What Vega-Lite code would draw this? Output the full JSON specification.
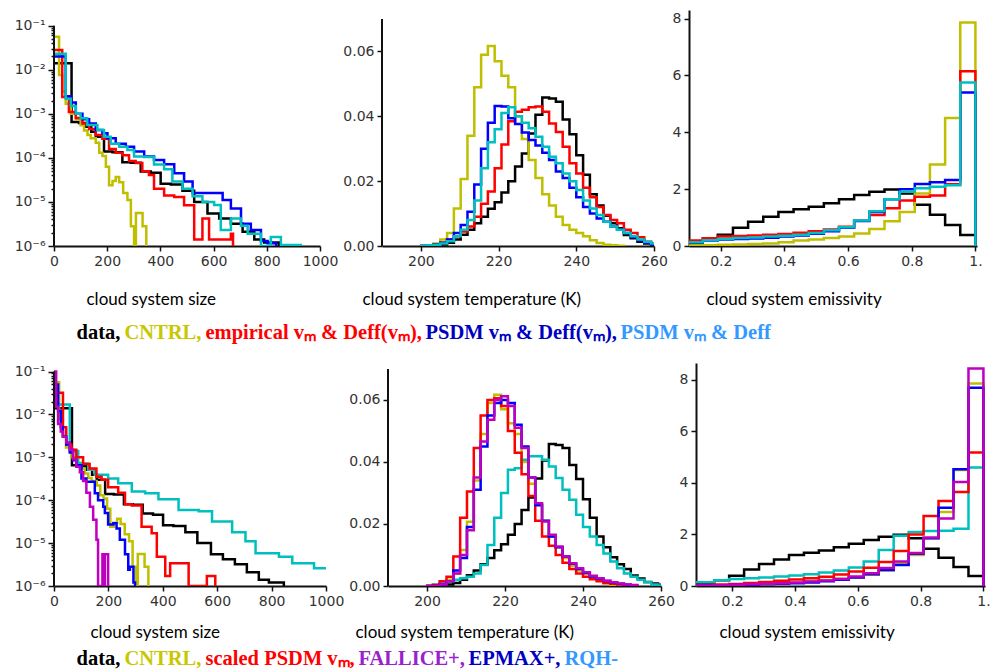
{
"$schema": "https://vega.github.io/schema/vega-lite/v6.json",
"padding": {"left": 14, "top": 10, "right": 2, "bottom": 0},
"background": "white",
"config": {
 "view": {"stroke": null},
 "axis": {"domainColor": "#111111", "domainWidth": 2, "tickColor": "#111111", "tickWidth": 1.5, "tickSize": 5, "labelFont": "DejaVu Sans", "labelFontSize": 14, "labelColor": "#333333", "labelPadding": 3, "grid": false, "titleFont": "Lato", "titleFontSize": 17, "titleFontWeight": "normal", "titleColor": "#000000", "labelFlush": false, "labelOverlap": false, "titleAnchor": "start", "titleAlign": "left"}
},
"datasets": {"h": [
{"v":"s","r":"data","x":0,"y":1.4e-2},{"v":"s","r":"data","x":66,"y":6.5e-4},{"v":"s","r":"data","x":94,"y":6.2e-4},{"v":"s","r":"data","x":119,"y":5.1e-4},{"v":"s","r":"data","x":140,"y":3.9e-4},{"v":"s","r":"data","x":157,"y":3.0e-4},{"v":"s","r":"data","x":188,"y":1.4e-4},{"v":"s","r":"data","x":220,"y":1.35e-4},{"v":"s","r":"data","x":257,"y":8.0e-5},{"v":"s","r":"data","x":289,"y":7.8e-5},{"v":"s","r":"data","x":326,"y":4.9e-5},{"v":"s","r":"data","x":364,"y":4.6e-5},{"v":"s","r":"data","x":401,"y":2.6e-5},{"v":"s","r":"data","x":439,"y":2.5e-5},{"v":"s","r":"data","x":483,"y":1.8e-5},{"v":"s","r":"data","x":527,"y":1.0e-5},{"v":"s","r":"data","x":577,"y":5.5e-6},{"v":"s","r":"data","x":621,"y":4.2e-6},{"v":"s","r":"data","x":665,"y":3.2e-6},{"v":"s","r":"data","x":709,"y":2.1e-6},{"v":"s","r":"data","x":753,"y":1.4e-6},{"v":"s","r":"data","x":790,"y":1.2e-6},{"v":"s","r":"data","x":845,"y":1e-6},
{"v":"t","r":"data","x":199.75,"y":0},{"v":"t","r":"data","x":201.5,"y":0.0001},{"v":"t","r":"data","x":203.25,"y":0.0002},{"v":"t","r":"data","x":205,"y":0.0005},{"v":"t","r":"data","x":206.75,"y":0.001},{"v":"t","r":"data","x":208.5,"y":0.002},{"v":"t","r":"data","x":210.25,"y":0.0035},{"v":"t","r":"data","x":212,"y":0.005},{"v":"t","r":"data","x":213.75,"y":0.007},{"v":"t","r":"data","x":215.5,"y":0.009},{"v":"t","r":"data","x":217.25,"y":0.0115},{"v":"t","r":"data","x":219,"y":0.0135},{"v":"t","r":"data","x":220.75,"y":0.0165},{"v":"t","r":"data","x":222.5,"y":0.02},{"v":"t","r":"data","x":224.25,"y":0.0245},{"v":"t","r":"data","x":226,"y":0.0285},{"v":"t","r":"data","x":227.75,"y":0.0347},{"v":"t","r":"data","x":229.5,"y":0.0405},{"v":"t","r":"data","x":231.25,"y":0.0458},{"v":"t","r":"data","x":233,"y":0.0455},{"v":"t","r":"data","x":234.75,"y":0.0445},{"v":"t","r":"data","x":236.5,"y":0.039},{"v":"t","r":"data","x":238.25,"y":0.0345},{"v":"t","r":"data","x":240,"y":0.028},{"v":"t","r":"data","x":241.75,"y":0.022},{"v":"t","r":"data","x":243.5,"y":0.016},{"v":"t","r":"data","x":245.25,"y":0.0125},{"v":"t","r":"data","x":247,"y":0.0093},{"v":"t","r":"data","x":248.75,"y":0.007},{"v":"t","r":"data","x":250.5,"y":0.0055},{"v":"t","r":"data","x":252.25,"y":0.0034},{"v":"t","r":"data","x":254,"y":0.0024},{"v":"t","r":"data","x":255.75,"y":0.0013},{"v":"t","r":"data","x":257.5,"y":0.0008},{"v":"t","r":"data","x":259.25,"y":0.0004},{"v":"t","r":"data","x":261,"y":0},
{"v":"e","r":"data","x":0.0476,"y":0.1},{"v":"e","r":"data","x":0.1429,"y":0.22},{"v":"e","r":"data","x":0.1905,"y":0.4},{"v":"e","r":"data","x":0.2381,"y":0.64},{"v":"e","r":"data","x":0.2857,"y":0.85},{"v":"e","r":"data","x":0.3333,"y":1.03},{"v":"e","r":"data","x":0.381,"y":1.2},{"v":"e","r":"data","x":0.4286,"y":1.29},{"v":"e","r":"data","x":0.4762,"y":1.38},{"v":"e","r":"data","x":0.5238,"y":1.5},{"v":"e","r":"data","x":0.5714,"y":1.64},{"v":"e","r":"data","x":0.619,"y":1.79},{"v":"e","r":"data","x":0.6667,"y":1.91},{"v":"e","r":"data","x":0.7143,"y":1.99},{"v":"e","r":"data","x":0.7619,"y":1.85},{"v":"e","r":"data","x":0.8095,"y":1.45},{"v":"e","r":"data","x":0.8571,"y":1.1},{"v":"e","r":"data","x":0.9048,"y":0.74},{"v":"e","r":"data","x":0.9524,"y":0.39},{"v":"e","r":"data","x":1.0,"y":0},
{"v":"s","r":"CNTRL","x":0,"y":5.6e-2},{"v":"s","r":"CNTRL","x":19,"y":7.6e-3},{"v":"s","r":"CNTRL","x":31,"y":3.2e-3},{"v":"s","r":"CNTRL","x":44,"y":1.7e-3},{"v":"s","r":"CNTRL","x":63,"y":1.0e-3},{"v":"s","r":"CNTRL","x":82,"y":7.5e-4},{"v":"s","r":"CNTRL","x":100,"y":5.5e-4},{"v":"s","r":"CNTRL","x":113,"y":4.2e-4},{"v":"s","r":"CNTRL","x":126,"y":3.3e-4},{"v":"s","r":"CNTRL","x":138,"y":2.8e-4},{"v":"s","r":"CNTRL","x":157,"y":2.2e-4},{"v":"s","r":"CNTRL","x":170,"y":1.3e-4},{"v":"s","r":"CNTRL","x":182,"y":1.1e-4},{"v":"s","r":"CNTRL","x":195,"y":6.3e-5},{"v":"s","r":"CNTRL","x":207,"y":2.4e-5},{"v":"s","r":"CNTRL","x":220,"y":3.0e-5},{"v":"s","r":"CNTRL","x":232,"y":3.7e-5},{"v":"s","r":"CNTRL","x":245,"y":2.8e-5},{"v":"s","r":"CNTRL","x":260,"y":1.6e-5},{"v":"s","r":"CNTRL","x":276,"y":1.1e-5},{"v":"s","r":"CNTRL","x":289,"y":2.8e-6},{"v":"s","r":"CNTRL","x":301,"y":1e-6},{"v":"s","r":"CNTRL","x":308,"y":5.6e-6},{"v":"s","r":"CNTRL","x":333,"y":2.8e-6},{"v":"s","r":"CNTRL","x":347,"y":1e-6},
{"v":"t","r":"CNTRL","x":199.75,"y":0},{"v":"t","r":"CNTRL","x":201.5,"y":0.0002},{"v":"t","r":"CNTRL","x":203.25,"y":0.0008},{"v":"t","r":"CNTRL","x":205,"y":0.002},{"v":"t","r":"CNTRL","x":206.75,"y":0.004},{"v":"t","r":"CNTRL","x":208.5,"y":0.0116},{"v":"t","r":"CNTRL","x":210.25,"y":0.0207},{"v":"t","r":"CNTRL","x":212,"y":0.034},{"v":"t","r":"CNTRL","x":213.75,"y":0.049},{"v":"t","r":"CNTRL","x":215.5,"y":0.059},{"v":"t","r":"CNTRL","x":217.25,"y":0.0617},{"v":"t","r":"CNTRL","x":219,"y":0.057},{"v":"t","r":"CNTRL","x":220.75,"y":0.0525},{"v":"t","r":"CNTRL","x":222.5,"y":0.049},{"v":"t","r":"CNTRL","x":224.25,"y":0.04},{"v":"t","r":"CNTRL","x":226,"y":0.033},{"v":"t","r":"CNTRL","x":227.75,"y":0.0265},{"v":"t","r":"CNTRL","x":229.5,"y":0.021},{"v":"t","r":"CNTRL","x":231.25,"y":0.016},{"v":"t","r":"CNTRL","x":233,"y":0.0125},{"v":"t","r":"CNTRL","x":234.75,"y":0.009},{"v":"t","r":"CNTRL","x":236.5,"y":0.0065},{"v":"t","r":"CNTRL","x":238.25,"y":0.005},{"v":"t","r":"CNTRL","x":240,"y":0.004},{"v":"t","r":"CNTRL","x":241.75,"y":0.003},{"v":"t","r":"CNTRL","x":243.5,"y":0.0018},{"v":"t","r":"CNTRL","x":245.25,"y":0.0009},{"v":"t","r":"CNTRL","x":247,"y":0.0004},{"v":"t","r":"CNTRL","x":248.75,"y":0.0002},{"v":"t","r":"CNTRL","x":250.5,"y":0.0001},{"v":"t","r":"CNTRL","x":252.25,"y":0},
{"v":"e","r":"CNTRL","x":0.0476,"y":0.02},{"v":"e","r":"CNTRL","x":0.1429,"y":0.03},{"v":"e","r":"CNTRL","x":0.1905,"y":0.04},{"v":"e","r":"CNTRL","x":0.2381,"y":0.05},{"v":"e","r":"CNTRL","x":0.2857,"y":0.07},{"v":"e","r":"CNTRL","x":0.3333,"y":0.09},{"v":"e","r":"CNTRL","x":0.381,"y":0.13},{"v":"e","r":"CNTRL","x":0.4286,"y":0.19},{"v":"e","r":"CNTRL","x":0.4762,"y":0.23},{"v":"e","r":"CNTRL","x":0.5238,"y":0.28},{"v":"e","r":"CNTRL","x":0.5714,"y":0.33},{"v":"e","r":"CNTRL","x":0.619,"y":0.44},{"v":"e","r":"CNTRL","x":0.6667,"y":0.6},{"v":"e","r":"CNTRL","x":0.7143,"y":0.87},{"v":"e","r":"CNTRL","x":0.7619,"y":1.2},{"v":"e","r":"CNTRL","x":0.8095,"y":1.85},{"v":"e","r":"CNTRL","x":0.8571,"y":2.87},{"v":"e","r":"CNTRL","x":0.9048,"y":4.5},{"v":"e","r":"CNTRL","x":0.9524,"y":7.86},{"v":"e","r":"CNTRL","x":1.0,"y":0},
{"v":"s","r":"emp","x":0,"y":2.8e-2},{"v":"s","r":"emp","x":31,"y":2.4e-3},{"v":"s","r":"emp","x":56,"y":1.1e-3},{"v":"s","r":"emp","x":82,"y":8.0e-4},{"v":"s","r":"emp","x":107,"y":6.0e-4},{"v":"s","r":"emp","x":132,"y":4.5e-4},{"v":"s","r":"emp","x":157,"y":3.3e-4},{"v":"s","r":"emp","x":182,"y":2.7e-4},{"v":"s","r":"emp","x":207,"y":1.6e-4},{"v":"s","r":"emp","x":232,"y":1.3e-4},{"v":"s","r":"emp","x":257,"y":1.15e-4},{"v":"s","r":"emp","x":282,"y":8.5e-5},{"v":"s","r":"emp","x":307,"y":7.7e-5},{"v":"s","r":"emp","x":332,"y":5.0e-5},{"v":"s","r":"emp","x":357,"y":4.1e-5},{"v":"s","r":"emp","x":376,"y":2.0e-5},{"v":"s","r":"emp","x":414,"y":1.4e-5},{"v":"s","r":"emp","x":452,"y":1.3e-5},{"v":"s","r":"emp","x":489,"y":8.4e-6},{"v":"s","r":"emp","x":527,"y":1.4e-6},{"v":"s","r":"emp","x":558,"y":4.2e-6},{"v":"s","r":"emp","x":583,"y":1.4e-6},{"v":"s","r":"emp","x":665,"y":1.9e-6},{"v":"s","r":"emp","x":673,"y":1e-6},
{"v":"t","r":"emp","x":199.75,"y":0},{"v":"t","r":"emp","x":201.5,"y":0.0002},{"v":"t","r":"emp","x":203.25,"y":0.0005},{"v":"t","r":"emp","x":205,"y":0.001},{"v":"t","r":"emp","x":206.75,"y":0.002},{"v":"t","r":"emp","x":208.5,"y":0.003},{"v":"t","r":"emp","x":210.25,"y":0.0045},{"v":"t","r":"emp","x":212,"y":0.006},{"v":"t","r":"emp","x":213.75,"y":0.009},{"v":"t","r":"emp","x":215.5,"y":0.013},{"v":"t","r":"emp","x":217.25,"y":0.0168},{"v":"t","r":"emp","x":219,"y":0.024},{"v":"t","r":"emp","x":220.75,"y":0.0313},{"v":"t","r":"emp","x":222.5,"y":0.0385},{"v":"t","r":"emp","x":224.25,"y":0.0414},{"v":"t","r":"emp","x":226,"y":0.042},{"v":"t","r":"emp","x":227.75,"y":0.0428},{"v":"t","r":"emp","x":229.5,"y":0.043},{"v":"t","r":"emp","x":231.25,"y":0.0414},{"v":"t","r":"emp","x":233,"y":0.0378},{"v":"t","r":"emp","x":234.75,"y":0.0352},{"v":"t","r":"emp","x":236.5,"y":0.0306},{"v":"t","r":"emp","x":238.25,"y":0.0255},{"v":"t","r":"emp","x":240,"y":0.0224},{"v":"t","r":"emp","x":241.75,"y":0.018},{"v":"t","r":"emp","x":243.5,"y":0.015},{"v":"t","r":"emp","x":245.25,"y":0.012},{"v":"t","r":"emp","x":247,"y":0.0096},{"v":"t","r":"emp","x":248.75,"y":0.008},{"v":"t","r":"emp","x":250.5,"y":0.007},{"v":"t","r":"emp","x":252.25,"y":0.005},{"v":"t","r":"emp","x":254,"y":0.004},{"v":"t","r":"emp","x":255.75,"y":0.0027},{"v":"t","r":"emp","x":257.5,"y":0.0013},{"v":"t","r":"emp","x":259.25,"y":0.0006},{"v":"t","r":"emp","x":261,"y":0},
{"v":"e","r":"emp","x":0.0476,"y":0.19},{"v":"e","r":"emp","x":0.1429,"y":0.27},{"v":"e","r":"emp","x":0.1905,"y":0.33},{"v":"e","r":"emp","x":0.2381,"y":0.35},{"v":"e","r":"emp","x":0.2857,"y":0.37},{"v":"e","r":"emp","x":0.3333,"y":0.4},{"v":"e","r":"emp","x":0.381,"y":0.42},{"v":"e","r":"emp","x":0.4286,"y":0.47},{"v":"e","r":"emp","x":0.4762,"y":0.52},{"v":"e","r":"emp","x":0.5238,"y":0.58},{"v":"e","r":"emp","x":0.5714,"y":0.68},{"v":"e","r":"emp","x":0.619,"y":0.89},{"v":"e","r":"emp","x":0.6667,"y":1.09},{"v":"e","r":"emp","x":0.7143,"y":1.33},{"v":"e","r":"emp","x":0.7619,"y":1.6},{"v":"e","r":"emp","x":0.8095,"y":1.73},{"v":"e","r":"emp","x":0.8571,"y":1.78},{"v":"e","r":"emp","x":0.9048,"y":2.17},{"v":"e","r":"emp","x":0.9524,"y":6.15},{"v":"e","r":"emp","x":1.0,"y":0},
{"v":"s","r":"psdm1","x":0,"y":2.0e-2},{"v":"s","r":"psdm1","x":44,"y":2.5e-3},{"v":"s","r":"psdm1","x":63,"y":1.8e-3},{"v":"s","r":"psdm1","x":82,"y":1.0e-3},{"v":"s","r":"psdm1","x":107,"y":7.5e-4},{"v":"s","r":"psdm1","x":132,"y":6.0e-4},{"v":"s","r":"psdm1","x":157,"y":4.3e-4},{"v":"s","r":"psdm1","x":182,"y":3.6e-4},{"v":"s","r":"psdm1","x":201,"y":2.8e-4},{"v":"s","r":"psdm1","x":232,"y":2.1e-4},{"v":"s","r":"psdm1","x":270,"y":1.8e-4},{"v":"s","r":"psdm1","x":301,"y":1.4e-4},{"v":"s","r":"psdm1","x":339,"y":1.07e-4},{"v":"s","r":"psdm1","x":376,"y":8.9e-5},{"v":"s","r":"psdm1","x":414,"y":7.2e-5},{"v":"s","r":"psdm1","x":452,"y":4.5e-5},{"v":"s","r":"psdm1","x":489,"y":2.9e-5},{"v":"s","r":"psdm1","x":521,"y":1.6e-5},{"v":"s","r":"psdm1","x":634,"y":1.1e-5},{"v":"s","r":"psdm1","x":665,"y":7.1e-6},{"v":"s","r":"psdm1","x":703,"y":3.2e-6},{"v":"s","r":"psdm1","x":740,"y":2.3e-6},{"v":"s","r":"psdm1","x":778,"y":1.3e-6},{"v":"s","r":"psdm1","x":803,"y":1.15e-6},{"v":"s","r":"psdm1","x":835,"y":1e-6},
{"v":"t","r":"psdm1","x":199.75,"y":0},{"v":"t","r":"psdm1","x":201.5,"y":0.0002},{"v":"t","r":"psdm1","x":203.25,"y":0.0005},{"v":"t","r":"psdm1","x":205,"y":0.001},{"v":"t","r":"psdm1","x":206.75,"y":0.002},{"v":"t","r":"psdm1","x":208.5,"y":0.004},{"v":"t","r":"psdm1","x":210.25,"y":0.0065},{"v":"t","r":"psdm1","x":212,"y":0.0106},{"v":"t","r":"psdm1","x":213.75,"y":0.019},{"v":"t","r":"psdm1","x":215.5,"y":0.03},{"v":"t","r":"psdm1","x":217.25,"y":0.038},{"v":"t","r":"psdm1","x":219,"y":0.0432},{"v":"t","r":"psdm1","x":220.75,"y":0.043},{"v":"t","r":"psdm1","x":222.5,"y":0.0394},{"v":"t","r":"psdm1","x":224.25,"y":0.0376},{"v":"t","r":"psdm1","x":226,"y":0.035},{"v":"t","r":"psdm1","x":227.75,"y":0.0327},{"v":"t","r":"psdm1","x":229.5,"y":0.031},{"v":"t","r":"psdm1","x":231.25,"y":0.0288},{"v":"t","r":"psdm1","x":233,"y":0.0265},{"v":"t","r":"psdm1","x":234.75,"y":0.023},{"v":"t","r":"psdm1","x":236.5,"y":0.021},{"v":"t","r":"psdm1","x":238.25,"y":0.018},{"v":"t","r":"psdm1","x":240,"y":0.015},{"v":"t","r":"psdm1","x":241.75,"y":0.012},{"v":"t","r":"psdm1","x":243.5,"y":0.01},{"v":"t","r":"psdm1","x":245.25,"y":0.0085},{"v":"t","r":"psdm1","x":247,"y":0.0075},{"v":"t","r":"psdm1","x":248.75,"y":0.006},{"v":"t","r":"psdm1","x":250.5,"y":0.005},{"v":"t","r":"psdm1","x":252.25,"y":0.004},{"v":"t","r":"psdm1","x":254,"y":0.0027},{"v":"t","r":"psdm1","x":255.75,"y":0.0018},{"v":"t","r":"psdm1","x":257.5,"y":0.001},{"v":"t","r":"psdm1","x":259.25,"y":0.0005},{"v":"t","r":"psdm1","x":261,"y":0},
{"v":"e","r":"psdm1","x":0.0476,"y":0.12},{"v":"e","r":"psdm1","x":0.1429,"y":0.19},{"v":"e","r":"psdm1","x":0.1905,"y":0.23},{"v":"e","r":"psdm1","x":0.2381,"y":0.25},{"v":"e","r":"psdm1","x":0.2857,"y":0.26},{"v":"e","r":"psdm1","x":0.3333,"y":0.29},{"v":"e","r":"psdm1","x":0.381,"y":0.33},{"v":"e","r":"psdm1","x":0.4286,"y":0.37},{"v":"e","r":"psdm1","x":0.4762,"y":0.43},{"v":"e","r":"psdm1","x":0.5238,"y":0.52},{"v":"e","r":"psdm1","x":0.5714,"y":0.64},{"v":"e","r":"psdm1","x":0.619,"y":0.88},{"v":"e","r":"psdm1","x":0.6667,"y":1.2},{"v":"e","r":"psdm1","x":0.7143,"y":1.64},{"v":"e","r":"psdm1","x":0.7619,"y":2.0},{"v":"e","r":"psdm1","x":0.8095,"y":2.18},{"v":"e","r":"psdm1","x":0.8571,"y":2.24},{"v":"e","r":"psdm1","x":0.9048,"y":2.32},{"v":"e","r":"psdm1","x":0.9524,"y":5.4},{"v":"e","r":"psdm1","x":1.0,"y":0},
{"v":"s","r":"psdm2","x":0,"y":2.3e-2},{"v":"s","r":"psdm2","x":44,"y":2.2e-3},{"v":"s","r":"psdm2","x":63,"y":1.5e-3},{"v":"s","r":"psdm2","x":82,"y":1.0e-3},{"v":"s","r":"psdm2","x":100,"y":7.9e-4},{"v":"s","r":"psdm2","x":125,"y":5.6e-4},{"v":"s","r":"psdm2","x":163,"y":4.3e-4},{"v":"s","r":"psdm2","x":188,"y":3.0e-4},{"v":"s","r":"psdm2","x":213,"y":2.1e-4},{"v":"s","r":"psdm2","x":245,"y":1.8e-4},{"v":"s","r":"psdm2","x":276,"y":1.5e-4},{"v":"s","r":"psdm2","x":301,"y":1.07e-4},{"v":"s","r":"psdm2","x":339,"y":1.05e-4},{"v":"s","r":"psdm2","x":376,"y":7.1e-5},{"v":"s","r":"psdm2","x":414,"y":5.5e-5},{"v":"s","r":"psdm2","x":445,"y":2.9e-5},{"v":"s","r":"psdm2","x":483,"y":2.0e-5},{"v":"s","r":"psdm2","x":521,"y":1.35e-5},{"v":"s","r":"psdm2","x":558,"y":1.0e-5},{"v":"s","r":"psdm2","x":602,"y":8.5e-6},{"v":"s","r":"psdm2","x":627,"y":2.3e-6},{"v":"s","r":"psdm2","x":665,"y":4.2e-6},{"v":"s","r":"psdm2","x":703,"y":2.9e-6},{"v":"s","r":"psdm2","x":728,"y":1.9e-6},{"v":"s","r":"psdm2","x":778,"y":1.0e-6},{"v":"s","r":"psdm2","x":815,"y":1.6e-6},{"v":"s","r":"psdm2","x":853,"y":1.05e-6},{"v":"s","r":"psdm2","x":928,"y":1e-6},
{"v":"t","r":"psdm2","x":199.75,"y":0},{"v":"t","r":"psdm2","x":201.5,"y":0.0002},{"v":"t","r":"psdm2","x":203.25,"y":0.0004},{"v":"t","r":"psdm2","x":205,"y":0.0008},{"v":"t","r":"psdm2","x":206.75,"y":0.0015},{"v":"t","r":"psdm2","x":208.5,"y":0.003},{"v":"t","r":"psdm2","x":210.25,"y":0.005},{"v":"t","r":"psdm2","x":212,"y":0.008},{"v":"t","r":"psdm2","x":213.75,"y":0.014},{"v":"t","r":"psdm2","x":215.5,"y":0.024},{"v":"t","r":"psdm2","x":217.25,"y":0.032},{"v":"t","r":"psdm2","x":219,"y":0.036},{"v":"t","r":"psdm2","x":220.75,"y":0.041},{"v":"t","r":"psdm2","x":222.5,"y":0.0428},{"v":"t","r":"psdm2","x":224.25,"y":0.04},{"v":"t","r":"psdm2","x":226,"y":0.038},{"v":"t","r":"psdm2","x":227.75,"y":0.0363},{"v":"t","r":"psdm2","x":229.5,"y":0.0337},{"v":"t","r":"psdm2","x":231.25,"y":0.0306},{"v":"t","r":"psdm2","x":233,"y":0.0275},{"v":"t","r":"psdm2","x":234.75,"y":0.0255},{"v":"t","r":"psdm2","x":236.5,"y":0.0224},{"v":"t","r":"psdm2","x":238.25,"y":0.02},{"v":"t","r":"psdm2","x":240,"y":0.0173},{"v":"t","r":"psdm2","x":241.75,"y":0.014},{"v":"t","r":"psdm2","x":243.5,"y":0.0116},{"v":"t","r":"psdm2","x":245.25,"y":0.0096},{"v":"t","r":"psdm2","x":247,"y":0.0075},{"v":"t","r":"psdm2","x":248.75,"y":0.006},{"v":"t","r":"psdm2","x":250.5,"y":0.005},{"v":"t","r":"psdm2","x":252.25,"y":0.004},{"v":"t","r":"psdm2","x":254,"y":0.003},{"v":"t","r":"psdm2","x":255.75,"y":0.002},{"v":"t","r":"psdm2","x":257.5,"y":0.0013},{"v":"t","r":"psdm2","x":259.25,"y":0.0008},{"v":"t","r":"psdm2","x":261,"y":0},
{"v":"e","r":"psdm2","x":0.0476,"y":0.13},{"v":"e","r":"psdm2","x":0.1429,"y":0.2},{"v":"e","r":"psdm2","x":0.1905,"y":0.25},{"v":"e","r":"psdm2","x":0.2381,"y":0.28},{"v":"e","r":"psdm2","x":0.2857,"y":0.3},{"v":"e","r":"psdm2","x":0.3333,"y":0.33},{"v":"e","r":"psdm2","x":0.381,"y":0.36},{"v":"e","r":"psdm2","x":0.4286,"y":0.4},{"v":"e","r":"psdm2","x":0.4762,"y":0.46},{"v":"e","r":"psdm2","x":0.5238,"y":0.55},{"v":"e","r":"psdm2","x":0.5714,"y":0.66},{"v":"e","r":"psdm2","x":0.619,"y":0.9},{"v":"e","r":"psdm2","x":0.6667,"y":1.22},{"v":"e","r":"psdm2","x":0.7143,"y":1.64},{"v":"e","r":"psdm2","x":0.7619,"y":1.91},{"v":"e","r":"psdm2","x":0.8095,"y":2.03},{"v":"e","r":"psdm2","x":0.8571,"y":2.08},{"v":"e","r":"psdm2","x":0.9048,"y":2.14},{"v":"e","r":"psdm2","x":0.9524,"y":5.75},{"v":"e","r":"psdm2","x":1.0,"y":0},
{"v":"s","r":"rqh","x":0,"y":1.7e-2},{"v":"s","r":"rqh","x":58,"y":1.4e-3},{"v":"s","r":"rqh","x":89,"y":7.2e-4},{"v":"s","r":"rqh","x":126,"y":5.1e-4},{"v":"s","r":"rqh","x":150,"y":3.9e-4},{"v":"s","r":"rqh","x":199,"y":3.2e-4},{"v":"s","r":"rqh","x":236,"y":2.5e-4},{"v":"s","r":"rqh","x":286,"y":1.6e-4},{"v":"s","r":"rqh","x":335,"y":1.45e-4},{"v":"s","r":"rqh","x":384,"y":1.05e-4},{"v":"s","r":"rqh","x":458,"y":5.9e-5},{"v":"s","r":"rqh","x":532,"y":5.5e-5},{"v":"s","r":"rqh","x":581,"y":3.2e-5},{"v":"s","r":"rqh","x":655,"y":1.8e-5},{"v":"s","r":"rqh","x":704,"y":1.1e-5},{"v":"s","r":"rqh","x":741,"y":5.8e-6},{"v":"s","r":"rqh","x":827,"y":4.8e-6},{"v":"s","r":"rqh","x":876,"y":3.4e-6},{"v":"s","r":"rqh","x":956,"y":2.6e-6},{"v":"s","r":"rqh","x":1010,"y":2.6e-6},
{"v":"t","r":"rqh","x":199.75,"y":0},{"v":"t","r":"rqh","x":201.5,"y":0.0005},{"v":"t","r":"rqh","x":203.25,"y":0.001},{"v":"t","r":"rqh","x":205,"y":0.0015},{"v":"t","r":"rqh","x":206.75,"y":0.002},{"v":"t","r":"rqh","x":208.5,"y":0.0025},{"v":"t","r":"rqh","x":210.25,"y":0.003},{"v":"t","r":"rqh","x":212,"y":0.004},{"v":"t","r":"rqh","x":213.75,"y":0.0068},{"v":"t","r":"rqh","x":215.5,"y":0.0132},{"v":"t","r":"rqh","x":217.25,"y":0.022},{"v":"t","r":"rqh","x":219,"y":0.03},{"v":"t","r":"rqh","x":220.75,"y":0.0375},{"v":"t","r":"rqh","x":222.5,"y":0.038},{"v":"t","r":"rqh","x":224.25,"y":0.0407},{"v":"t","r":"rqh","x":226,"y":0.0418},{"v":"t","r":"rqh","x":227.75,"y":0.0418},{"v":"t","r":"rqh","x":229.5,"y":0.0407},{"v":"t","r":"rqh","x":231.25,"y":0.0385},{"v":"t","r":"rqh","x":233,"y":0.0348},{"v":"t","r":"rqh","x":234.75,"y":0.031},{"v":"t","r":"rqh","x":236.5,"y":0.0278},{"v":"t","r":"rqh","x":238.25,"y":0.023},{"v":"t","r":"rqh","x":240,"y":0.019},{"v":"t","r":"rqh","x":241.75,"y":0.016},{"v":"t","r":"rqh","x":243.5,"y":0.0132},{"v":"t","r":"rqh","x":245.25,"y":0.0105},{"v":"t","r":"rqh","x":247,"y":0.0079},{"v":"t","r":"rqh","x":248.75,"y":0.0057},{"v":"t","r":"rqh","x":250.5,"y":0.004},{"v":"t","r":"rqh","x":252.25,"y":0.003},{"v":"t","r":"rqh","x":254,"y":0.002},{"v":"t","r":"rqh","x":255.75,"y":0.0012},{"v":"t","r":"rqh","x":257.5,"y":0.0005},{"v":"t","r":"rqh","x":259.25,"y":0.0002},{"v":"t","r":"rqh","x":261,"y":0},
{"v":"e","r":"rqh","x":0.0476,"y":0.15},{"v":"e","r":"rqh","x":0.1429,"y":0.22},{"v":"e","r":"rqh","x":0.1905,"y":0.27},{"v":"e","r":"rqh","x":0.2381,"y":0.3},{"v":"e","r":"rqh","x":0.2857,"y":0.33},{"v":"e","r":"rqh","x":0.3333,"y":0.37},{"v":"e","r":"rqh","x":0.381,"y":0.41},{"v":"e","r":"rqh","x":0.4286,"y":0.46},{"v":"e","r":"rqh","x":0.4762,"y":0.52},{"v":"e","r":"rqh","x":0.5238,"y":0.6},{"v":"e","r":"rqh","x":0.5714,"y":0.72},{"v":"e","r":"rqh","x":0.619,"y":0.95},{"v":"e","r":"rqh","x":0.6667,"y":1.4},{"v":"e","r":"rqh","x":0.7143,"y":1.95},{"v":"e","r":"rqh","x":0.7619,"y":2.1},{"v":"e","r":"rqh","x":0.8095,"y":2.14},{"v":"e","r":"rqh","x":0.8571,"y":2.15},{"v":"e","r":"rqh","x":0.9048,"y":2.22},{"v":"e","r":"rqh","x":0.9524,"y":4.6},{"v":"e","r":"rqh","x":1.0,"y":0},
{"v":"s","r":"scaled","x":0,"y":3.2e-2},{"v":"s","r":"scaled","x":33,"y":5.0e-3},{"v":"s","r":"scaled","x":45,"y":2.0e-3},{"v":"s","r":"scaled","x":64,"y":1.5e-3},{"v":"s","r":"scaled","x":82,"y":1.0e-3},{"v":"s","r":"scaled","x":107,"y":7.0e-4},{"v":"s","r":"scaled","x":131,"y":5.5e-4},{"v":"s","r":"scaled","x":156,"y":3.5e-4},{"v":"s","r":"scaled","x":175,"y":3.0e-4},{"v":"s","r":"scaled","x":199,"y":2.0e-4},{"v":"s","r":"scaled","x":236,"y":1.5e-4},{"v":"s","r":"scaled","x":261,"y":8.0e-5},{"v":"s","r":"scaled","x":286,"y":7.5e-5},{"v":"s","r":"scaled","x":322,"y":2.4e-5},{"v":"s","r":"scaled","x":359,"y":1.7e-5},{"v":"s","r":"scaled","x":378,"y":4.8e-6},{"v":"s","r":"scaled","x":409,"y":1.7e-6},{"v":"s","r":"scaled","x":427,"y":3.4e-6},{"v":"s","r":"scaled","x":495,"y":1e-6},{"v":"s","r":"scaled","x":562,"y":1.7e-6},{"v":"s","r":"scaled","x":593,"y":1e-6},
{"v":"t","r":"scaled","x":199.75,"y":0},{"v":"t","r":"scaled","x":201.5,"y":0.0003},{"v":"t","r":"scaled","x":203.25,"y":0.0015},{"v":"t","r":"scaled","x":205,"y":0.003},{"v":"t","r":"scaled","x":206.75,"y":0.0095},{"v":"t","r":"scaled","x":208.5,"y":0.022},{"v":"t","r":"scaled","x":210.25,"y":0.0305},{"v":"t","r":"scaled","x":212,"y":0.0445},{"v":"t","r":"scaled","x":213.75,"y":0.055},{"v":"t","r":"scaled","x":215.5,"y":0.06},{"v":"t","r":"scaled","x":217.25,"y":0.0605},{"v":"t","r":"scaled","x":219,"y":0.058},{"v":"t","r":"scaled","x":220.75,"y":0.05},{"v":"t","r":"scaled","x":222.5,"y":0.043},{"v":"t","r":"scaled","x":224.25,"y":0.036},{"v":"t","r":"scaled","x":226,"y":0.029},{"v":"t","r":"scaled","x":227.75,"y":0.021},{"v":"t","r":"scaled","x":229.5,"y":0.016},{"v":"t","r":"scaled","x":231.25,"y":0.013},{"v":"t","r":"scaled","x":233,"y":0.01},{"v":"t","r":"scaled","x":234.75,"y":0.0075},{"v":"t","r":"scaled","x":236.5,"y":0.0055},{"v":"t","r":"scaled","x":238.25,"y":0.004},{"v":"t","r":"scaled","x":240,"y":0.003},{"v":"t","r":"scaled","x":241.75,"y":0.0022},{"v":"t","r":"scaled","x":243.5,"y":0.0015},{"v":"t","r":"scaled","x":245.25,"y":0.001},{"v":"t","r":"scaled","x":247,"y":0.0007},{"v":"t","r":"scaled","x":248.75,"y":0.0005},{"v":"t","r":"scaled","x":250.5,"y":0.0003},{"v":"t","r":"scaled","x":252.25,"y":0},
{"v":"e","r":"scaled","x":0.0476,"y":0.04},{"v":"e","r":"scaled","x":0.1429,"y":0.06},{"v":"e","r":"scaled","x":0.1905,"y":0.08},{"v":"e","r":"scaled","x":0.2381,"y":0.12},{"v":"e","r":"scaled","x":0.2857,"y":0.16},{"v":"e","r":"scaled","x":0.3333,"y":0.2},{"v":"e","r":"scaled","x":0.381,"y":0.25},{"v":"e","r":"scaled","x":0.4286,"y":0.3},{"v":"e","r":"scaled","x":0.4762,"y":0.36},{"v":"e","r":"scaled","x":0.5238,"y":0.45},{"v":"e","r":"scaled","x":0.5714,"y":0.56},{"v":"e","r":"scaled","x":0.619,"y":0.71},{"v":"e","r":"scaled","x":0.6667,"y":0.93},{"v":"e","r":"scaled","x":0.7143,"y":1.36},{"v":"e","r":"scaled","x":0.7619,"y":2.0},{"v":"e","r":"scaled","x":0.8095,"y":2.72},{"v":"e","r":"scaled","x":0.8571,"y":3.3},{"v":"e","r":"scaled","x":0.9048,"y":3.65},{"v":"e","r":"scaled","x":0.9524,"y":5.18},{"v":"e","r":"scaled","x":1.0,"y":0},
{"v":"s","r":"epmax","x":0,"y":5.0e-2},{"v":"s","r":"epmax","x":15,"y":1.2e-2},{"v":"s","r":"epmax","x":25,"y":5.0e-3},{"v":"s","r":"epmax","x":33,"y":3.0e-3},{"v":"s","r":"epmax","x":45,"y":2.0e-3},{"v":"s","r":"epmax","x":58,"y":1.3e-3},{"v":"s","r":"epmax","x":70,"y":8.5e-4},{"v":"s","r":"epmax","x":82,"y":6.5e-4},{"v":"s","r":"epmax","x":101,"y":3.2e-4},{"v":"s","r":"epmax","x":119,"y":2.7e-4},{"v":"s","r":"epmax","x":150,"y":1.45e-4},{"v":"s","r":"epmax","x":162,"y":1.0e-4},{"v":"s","r":"epmax","x":181,"y":7.0e-5},{"v":"s","r":"epmax","x":187,"y":5.0e-5},{"v":"s","r":"epmax","x":199,"y":2.7e-5},{"v":"s","r":"epmax","x":218,"y":2.9e-5},{"v":"s","r":"epmax","x":230,"y":2.2e-5},{"v":"s","r":"epmax","x":242,"y":1.2e-5},{"v":"s","r":"epmax","x":261,"y":5.5e-6},{"v":"s","r":"epmax","x":273,"y":2.4e-6},{"v":"s","r":"epmax","x":279,"y":2.8e-6},{"v":"s","r":"epmax","x":292,"y":1.2e-6},{"v":"s","r":"epmax","x":298,"y":1e-6},
{"v":"t","r":"epmax","x":199.75,"y":0},{"v":"t","r":"epmax","x":203.25,"y":0.0005},{"v":"t","r":"epmax","x":205,"y":0.0015},{"v":"t","r":"epmax","x":206.75,"y":0.005},{"v":"t","r":"epmax","x":208.5,"y":0.009},{"v":"t","r":"epmax","x":210.25,"y":0.019},{"v":"t","r":"epmax","x":212,"y":0.031},{"v":"t","r":"epmax","x":213.75,"y":0.045},{"v":"t","r":"epmax","x":215.5,"y":0.055},{"v":"t","r":"epmax","x":217.25,"y":0.059},{"v":"t","r":"epmax","x":219,"y":0.06},{"v":"t","r":"epmax","x":220.75,"y":0.059},{"v":"t","r":"epmax","x":222.5,"y":0.052},{"v":"t","r":"epmax","x":224.25,"y":0.045},{"v":"t","r":"epmax","x":226,"y":0.035},{"v":"t","r":"epmax","x":227.75,"y":0.026},{"v":"t","r":"epmax","x":229.5,"y":0.021},{"v":"t","r":"epmax","x":231.25,"y":0.016},{"v":"t","r":"epmax","x":233,"y":0.0125},{"v":"t","r":"epmax","x":234.75,"y":0.0095},{"v":"t","r":"epmax","x":236.5,"y":0.0072},{"v":"t","r":"epmax","x":238.25,"y":0.0055},{"v":"t","r":"epmax","x":240,"y":0.0042},{"v":"t","r":"epmax","x":241.75,"y":0.0031},{"v":"t","r":"epmax","x":243.5,"y":0.0023},{"v":"t","r":"epmax","x":245.25,"y":0.0016},{"v":"t","r":"epmax","x":247,"y":0.0011},{"v":"t","r":"epmax","x":248.75,"y":0.0007},{"v":"t","r":"epmax","x":250.5,"y":0.0004},{"v":"t","r":"epmax","x":252.25,"y":0},
{"v":"e","r":"epmax","x":0.0476,"y":0.02},{"v":"e","r":"epmax","x":0.1429,"y":0.03},{"v":"e","r":"epmax","x":0.1905,"y":0.04},{"v":"e","r":"epmax","x":0.2381,"y":0.05},{"v":"e","r":"epmax","x":0.2857,"y":0.07},{"v":"e","r":"epmax","x":0.3333,"y":0.09},{"v":"e","r":"epmax","x":0.381,"y":0.11},{"v":"e","r":"epmax","x":0.4286,"y":0.14},{"v":"e","r":"epmax","x":0.4762,"y":0.18},{"v":"e","r":"epmax","x":0.5238,"y":0.24},{"v":"e","r":"epmax","x":0.5714,"y":0.33},{"v":"e","r":"epmax","x":0.619,"y":0.46},{"v":"e","r":"epmax","x":0.6667,"y":0.62},{"v":"e","r":"epmax","x":0.7143,"y":0.82},{"v":"e","r":"epmax","x":0.7619,"y":1.25},{"v":"e","r":"epmax","x":0.8095,"y":1.85},{"v":"e","r":"epmax","x":0.8571,"y":3.04},{"v":"e","r":"epmax","x":0.9048,"y":4.53},{"v":"e","r":"epmax","x":0.9524,"y":7.7},{"v":"e","r":"epmax","x":1.0,"y":0},
{"v":"s","r":"fallice","x":0,"y":1.0e-1},{"v":"s","r":"fallice","x":8,"y":1.5e-2},{"v":"s","r":"fallice","x":15,"y":6.0e-3},{"v":"s","r":"fallice","x":25,"y":4.0e-3},{"v":"s","r":"fallice","x":33,"y":3.0e-3},{"v":"s","r":"fallice","x":45,"y":2.2e-3},{"v":"s","r":"fallice","x":58,"y":1.5e-3},{"v":"s","r":"fallice","x":70,"y":9.0e-4},{"v":"s","r":"fallice","x":82,"y":6.0e-4},{"v":"s","r":"fallice","x":95,"y":4.5e-4},{"v":"s","r":"fallice","x":107,"y":2.8e-4},{"v":"s","r":"fallice","x":119,"y":1.5e-4},{"v":"s","r":"fallice","x":132,"y":7.0e-5},{"v":"s","r":"fallice","x":144,"y":3.5e-5},{"v":"s","r":"fallice","x":156,"y":1.2e-5},{"v":"s","r":"fallice","x":162,"y":1e-6},{"v":"s","r":"fallice","x":178,"y":5.5e-6},{"v":"s","r":"fallice","x":183,"y":1e-6},{"v":"s","r":"fallice","x":187,"y":5.5e-6},{"v":"s","r":"fallice","x":199,"y":1e-6},
{"v":"t","r":"fallice","x":199.75,"y":0},{"v":"t","r":"fallice","x":203.25,"y":0.0005},{"v":"t","r":"fallice","x":205,"y":0.0015},{"v":"t","r":"fallice","x":206.75,"y":0.004},{"v":"t","r":"fallice","x":208.5,"y":0.01},{"v":"t","r":"fallice","x":210.25,"y":0.018},{"v":"t","r":"fallice","x":212,"y":0.035},{"v":"t","r":"fallice","x":213.75,"y":0.0466},{"v":"t","r":"fallice","x":215.5,"y":0.0536},{"v":"t","r":"fallice","x":217.25,"y":0.06},{"v":"t","r":"fallice","x":219,"y":0.0612},{"v":"t","r":"fallice","x":220.75,"y":0.058},{"v":"t","r":"fallice","x":222.5,"y":0.051},{"v":"t","r":"fallice","x":224.25,"y":0.0445},{"v":"t","r":"fallice","x":226,"y":0.035},{"v":"t","r":"fallice","x":227.75,"y":0.0267},{"v":"t","r":"fallice","x":229.5,"y":0.0208},{"v":"t","r":"fallice","x":231.25,"y":0.0165},{"v":"t","r":"fallice","x":233,"y":0.0127},{"v":"t","r":"fallice","x":234.75,"y":0.0095},{"v":"t","r":"fallice","x":236.5,"y":0.0073},{"v":"t","r":"fallice","x":238.25,"y":0.0057},{"v":"t","r":"fallice","x":240,"y":0.0044},{"v":"t","r":"fallice","x":241.75,"y":0.0033},{"v":"t","r":"fallice","x":243.5,"y":0.0025},{"v":"t","r":"fallice","x":245.25,"y":0.0017},{"v":"t","r":"fallice","x":247,"y":0.0012},{"v":"t","r":"fallice","x":248.75,"y":0.0008},{"v":"t","r":"fallice","x":250.5,"y":0.0005},{"v":"t","r":"fallice","x":252.25,"y":0.0003},{"v":"t","r":"fallice","x":254,"y":0},
{"v":"e","r":"fallice","x":0.0476,"y":0.02},{"v":"e","r":"fallice","x":0.1429,"y":0.03},{"v":"e","r":"fallice","x":0.1905,"y":0.05},{"v":"e","r":"fallice","x":0.2381,"y":0.07},{"v":"e","r":"fallice","x":0.2857,"y":0.09},{"v":"e","r":"fallice","x":0.3333,"y":0.11},{"v":"e","r":"fallice","x":0.381,"y":0.14},{"v":"e","r":"fallice","x":0.4286,"y":0.17},{"v":"e","r":"fallice","x":0.4762,"y":0.21},{"v":"e","r":"fallice","x":0.5238,"y":0.27},{"v":"e","r":"fallice","x":0.5714,"y":0.37},{"v":"e","r":"fallice","x":0.619,"y":0.5},{"v":"e","r":"fallice","x":0.6667,"y":0.7},{"v":"e","r":"fallice","x":0.7143,"y":0.95},{"v":"e","r":"fallice","x":0.7619,"y":1.28},{"v":"e","r":"fallice","x":0.8095,"y":1.88},{"v":"e","r":"fallice","x":0.8571,"y":2.62},{"v":"e","r":"fallice","x":0.9048,"y":4.04},{"v":"e","r":"fallice","x":0.9524,"y":8.45},{"v":"e","r":"fallice","x":1.0,"y":0}
]},
"vconcat": [
 {"hconcat": [
  {"width": 266, "height": 236, "layer": [
   {"data": {"name": "h"}, "transform": [{"filter": "datum.v == 's' && indexof(['data','CNTRL','emp','psdm1','psdm2'], datum.r) >= 0"}],
    "mark": {"type": "line", "interpolate": "step-after", "strokeWidth": 2.5, "clip": true},
    "encoding": {
     "x": {"field": "x", "type": "quantitative", "scale": {"domain": [0, 1000], "nice": false, "zero": false}, "axis": {"values": [0, 200, 400, 600, 800, 1000], "format": "d", "title": "cloud system size", "titleX": 32, "titlePadding": 23}},
     "y": {"field": "y", "type": "quantitative", "scale": {"type": "log", "domain": [1e-6, 0.227], "nice": false}, "axis": {"title": null, "domain": false, "values": [1e-6,2e-6,3e-6,4e-6,5e-6,6e-6,7e-6,8e-6,9e-6,1e-5,2e-5,3e-5,4e-5,5e-5,6e-5,7e-5,8e-5,9e-5,1e-4,2e-4,3e-4,4e-4,5e-4,6e-4,7e-4,8e-4,9e-4,1e-3,2e-3,3e-3,4e-3,5e-3,6e-3,7e-3,8e-3,9e-3,1e-2,2e-2,3e-2,4e-2,5e-2,6e-2,7e-2,8e-2,9e-2,1e-1], "labelExpr": "abs(log(datum.value)/LN10 - round(log(datum.value)/LN10)) < 0.001 ? '10' + ['⁰','⁻¹','⁻²','⁻³','⁻⁴','⁻⁵','⁻⁶'][-round(log(datum.value)/LN10)] : ''", "tickSize": {"condition": {"test": "abs(log(datum.value)/LN10 - round(log(datum.value)/LN10)) < 0.001", "value": 6}, "value": 3}}},
     "color": {"field": "r", "type": "nominal", "scale": {"domain": ["data","CNTRL","emp","psdm1","psdm2"], "range": ["#000000","#bfbf00","#ff0000","#0000ff","#00bfbf"]},
      "legend": {"orient": "none", "legendX": 22, "legendY": 313, "direction": "horizontal", "columns": 6, "title": null, "symbolSize": 0, "symbolStrokeWidth": 0, "symbolOpacity": 0, "symbolOffset": -20, "labelOffset": 0, "columnPadding": -7, "labelFont": "Liberation Serif", "labelFontSize": 20.5, "labelFontWeight": "bold", "labelLimit": 0,
       "labelExpr": "datum.value == 'data' ? 'data,' : datum.value == 'CNTRL' ? 'CNTRL,' : datum.value == 'emp' ? 'empirical vₘ & Deff(vₘ),' : datum.value == 'psdm1' ? 'PSDM vₘ & Deff(vₘ),' : 'PSDM vₘ & Deff'",
       "encode": {"labels": {"update": {"fill": {"signal": "datum.value == 'CNTRL' ? '#c8c800' : datum.value == 'emp' ? '#ff0000' : datum.value == 'psdm1' ? '#0000c0' : datum.value == 'psdm2' ? '#3399ff' : '#000000'"}}}}}}
    }},
   {"data": {"values": [{}]}, "mark": {"type": "rule", "strokeWidth": 2, "color": "#111111"}, "encoding": {"x": {"datum": 0}, "y": {"datum": 1e-6}, "y2": {"datum": 0.1}}}
  ]},
  {"width": 272, "height": 236, "layer": [
   {"data": {"name": "h"}, "transform": [{"filter": "datum.v == 't' && indexof(['data','CNTRL','emp','psdm1','psdm2'], datum.r) >= 0"}],
    "mark": {"type": "line", "interpolate": "step-after", "strokeWidth": 2.5, "clip": true},
    "encoding": {
     "x": {"field": "x", "type": "quantitative", "scale": {"domain": [190, 260], "nice": false, "zero": false}, "axis": {"values": [200, 220, 240, 260], "title": "cloud system temperature (K)", "titleX": -20, "titlePadding": 23}},
     "y": {"field": "y", "type": "quantitative", "scale": {"domain": [0, 0.0728], "nice": false}, "axis": {"title": null, "domain": false, "values": [0, 0.01, 0.02, 0.03, 0.04, 0.05, 0.06, 0.07], "format": ".2f"}},
     "color": {"field": "r", "type": "nominal", "scale": {"domain": ["data","CNTRL","emp","psdm1","psdm2"], "range": ["#000000","#bfbf00","#ff0000","#0000ff","#00bfbf"]},
      "legend": {"orient": "none", "legendX": 22, "legendY": 313, "direction": "horizontal", "columns": 6, "title": null, "symbolSize": 0, "symbolStrokeWidth": 0, "symbolOpacity": 0, "symbolOffset": -20, "labelOffset": 0, "columnPadding": -7, "labelFont": "Liberation Serif", "labelFontSize": 20.5, "labelFontWeight": "bold", "labelLimit": 0,
       "labelExpr": "datum.value == 'data' ? 'data,' : datum.value == 'CNTRL' ? 'CNTRL,' : datum.value == 'emp' ? 'empirical vₘ & Deff(vₘ),' : datum.value == 'psdm1' ? 'PSDM vₘ & Deff(vₘ),' : 'PSDM vₘ & Deff'",
       "encode": {"labels": {"update": {"fill": {"signal": "datum.value == 'CNTRL' ? '#c8c800' : datum.value == 'emp' ? '#ff0000' : datum.value == 'psdm1' ? '#0000c0' : datum.value == 'psdm2' ? '#3399ff' : '#000000'"}}}}}}
    }},
   {"data": {"values": [{}]}, "mark": {"type": "rule", "strokeWidth": 2, "color": "#111111"}, "encoding": {"x": {"datum": 190}, "y": {"datum": 0}, "y2": {"datum": 0.07}}}
  ]},
  {"width": 288, "height": 236, "data": {"name": "h"}, "transform": [{"filter": "datum.v == 'e' && indexof(['data','CNTRL','emp','psdm1','psdm2'], datum.r) >= 0"}],
   "mark": {"type": "line", "interpolate": "step-after", "strokeWidth": 2.5, "clip": true},
   "encoding": {
    "x": {"field": "x", "type": "quantitative", "scale": {"domain": [0.1, 1.005], "nice": false, "zero": false}, "axis": {"values": [0.2, 0.4, 0.6, 0.8, 1.0], "labelExpr": "datum.value > 0.99 ? '1.' : format(datum.value, '.1f')", "title": "cloud system emissivity", "titleX": 17, "titlePadding": 23}},
    "y": {"field": "y", "type": "quantitative", "scale": {"domain": [0, 8.3], "nice": false}, "axis": {"title": null, "values": [0, 2, 4, 6, 8]}},
    "color": {"field": "r", "type": "nominal", "scale": {"domain": ["data","CNTRL","emp","psdm1","psdm2"], "range": ["#000000","#bfbf00","#ff0000","#0000ff","#00bfbf"]},
      "legend": {"orient": "none", "legendX": 22, "legendY": 313, "direction": "horizontal", "columns": 6, "title": null, "symbolSize": 0, "symbolStrokeWidth": 0, "symbolOpacity": 0, "symbolOffset": -20, "labelOffset": 0, "columnPadding": -7, "labelFont": "Liberation Serif", "labelFontSize": 20.5, "labelFontWeight": "bold", "labelLimit": 0,
       "labelExpr": "datum.value == 'data' ? 'data,' : datum.value == 'CNTRL' ? 'CNTRL,' : datum.value == 'emp' ? 'empirical vₘ & Deff(vₘ),' : datum.value == 'psdm1' ? 'PSDM vₘ & Deff(vₘ),' : 'PSDM vₘ & Deff'",
       "encode": {"labels": {"update": {"fill": {"signal": "datum.value == 'CNTRL' ? '#c8c800' : datum.value == 'emp' ? '#ff0000' : datum.value == 'psdm1' ? '#0000c0' : datum.value == 'psdm2' ? '#3399ff' : '#000000'"}}}}}}
   }}
 ], "spacing": 4},
 {"hconcat": [
  {"width": 272, "height": 223, "layer": [
   {"data": {"name": "h"}, "transform": [{"filter": "datum.v == 's' && indexof(['data','CNTRL','scaled','fallice','epmax','rqh'], datum.r) >= 0"}],
    "mark": {"type": "line", "interpolate": "step-after", "strokeWidth": 2.5, "clip": true},
    "encoding": {
     "x": {"field": "x", "type": "quantitative", "scale": {"domain": [0, 1000], "nice": false, "zero": false}, "axis": {"values": [0, 200, 400, 600, 800, 1000], "format": "d", "title": "cloud system size", "titleX": 36, "titlePadding": 16}},
     "y": {"field": "y", "type": "quantitative", "scale": {"type": "log", "domain": [1e-6, 0.158], "nice": false}, "axis": {"title": null, "domain": false, "values": [1e-6,2e-6,3e-6,4e-6,5e-6,6e-6,7e-6,8e-6,9e-6,1e-5,2e-5,3e-5,4e-5,5e-5,6e-5,7e-5,8e-5,9e-5,1e-4,2e-4,3e-4,4e-4,5e-4,6e-4,7e-4,8e-4,9e-4,1e-3,2e-3,3e-3,4e-3,5e-3,6e-3,7e-3,8e-3,9e-3,1e-2,2e-2,3e-2,4e-2,5e-2,6e-2,7e-2,8e-2,9e-2,1e-1], "labelExpr": "abs(log(datum.value)/LN10 - round(log(datum.value)/LN10)) < 0.001 ? '10' + ['⁰','⁻¹','⁻²','⁻³','⁻⁴','⁻⁵','⁻⁶'][-round(log(datum.value)/LN10)] : ''", "tickSize": {"condition": {"test": "abs(log(datum.value)/LN10 - round(log(datum.value)/LN10)) < 0.001", "value": 6}, "value": 3}}},
     "color": {"field": "r", "type": "nominal", "scale": {"domain": ["data","CNTRL","scaled","fallice","epmax","rqh"], "range": ["#000000","#bfbf00","#ff0000","#bf00bf","#0000ff","#00bfbf"]},
      "legend": {"orient": "none", "legendX": 22, "legendY": 286, "direction": "horizontal", "columns": 6, "title": null, "symbolSize": 0, "symbolStrokeWidth": 0, "symbolOpacity": 0, "symbolOffset": -20, "labelOffset": 0, "columnPadding": -7, "labelFont": "Liberation Serif", "labelFontSize": 20.5, "labelFontWeight": "bold", "labelLimit": 0,
       "labelExpr": "datum.value == 'data' ? 'data,' : datum.value == 'CNTRL' ? 'CNTRL,' : datum.value == 'scaled' ? 'scaled PSDM vₘ,' : datum.value == 'fallice' ? 'FALLICE+,' : datum.value == 'epmax' ? 'EPMAX+,' : 'RQH-'",
       "encode": {"labels": {"update": {"fill": {"signal": "datum.value == 'CNTRL' ? '#c8c800' : datum.value == 'scaled' ? '#ff0000' : datum.value == 'fallice' ? '#9922cc' : datum.value == 'epmax' ? '#0000c0' : datum.value == 'rqh' ? '#3399ff' : '#000000'"}}}}}}
    }},
   {"data": {"values": [{}]}, "mark": {"type": "rule", "strokeWidth": 2, "color": "#111111"}, "encoding": {"x": {"datum": 0}, "y": {"datum": 1e-6}, "y2": {"datum": 0.1}}}
  ]},
  {"width": 273, "height": 223, "layer": [
   {"data": {"name": "h"}, "transform": [{"filter": "datum.v == 't' && indexof(['data','CNTRL','scaled','fallice','epmax','rqh'], datum.r) >= 0"}],
    "mark": {"type": "line", "interpolate": "step-after", "strokeWidth": 2.5, "clip": true},
    "encoding": {
     "x": {"field": "x", "type": "quantitative", "scale": {"domain": [190, 260], "nice": false, "zero": false}, "axis": {"values": [200, 220, 240, 260], "title": "cloud system temperature (K)", "titleX": -33, "titlePadding": 16}},
     "y": {"field": "y", "type": "quantitative", "scale": {"domain": [0, 0.0719], "nice": false}, "axis": {"title": null, "domain": false, "values": [0, 0.01, 0.02, 0.03, 0.04, 0.05, 0.06, 0.07], "format": ".2f"}},
     "color": {"field": "r", "type": "nominal", "scale": {"domain": ["data","CNTRL","scaled","fallice","epmax","rqh"], "range": ["#000000","#bfbf00","#ff0000","#bf00bf","#0000ff","#00bfbf"]},
      "legend": {"orient": "none", "legendX": 22, "legendY": 286, "direction": "horizontal", "columns": 6, "title": null, "symbolSize": 0, "symbolStrokeWidth": 0, "symbolOpacity": 0, "symbolOffset": -20, "labelOffset": 0, "columnPadding": -7, "labelFont": "Liberation Serif", "labelFontSize": 20.5, "labelFontWeight": "bold", "labelLimit": 0,
       "labelExpr": "datum.value == 'data' ? 'data,' : datum.value == 'CNTRL' ? 'CNTRL,' : datum.value == 'scaled' ? 'scaled PSDM vₘ,' : datum.value == 'fallice' ? 'FALLICE+,' : datum.value == 'epmax' ? 'EPMAX+,' : 'RQH-'",
       "encode": {"labels": {"update": {"fill": {"signal": "datum.value == 'CNTRL' ? '#c8c800' : datum.value == 'scaled' ? '#ff0000' : datum.value == 'fallice' ? '#9922cc' : datum.value == 'epmax' ? '#0000c0' : datum.value == 'rqh' ? '#3399ff' : '#000000'"}}}}}}
    }},
   {"data": {"values": [{}]}, "mark": {"type": "rule", "strokeWidth": 2, "color": "#111111"}, "encoding": {"x": {"datum": 190}, "y": {"datum": 0}, "y2": {"datum": 0.07}}}
  ]},
  {"width": 289, "height": 223, "data": {"name": "h"}, "transform": [{"filter": "datum.v == 'e' && indexof(['data','CNTRL','scaled','fallice','epmax','rqh'], datum.r) >= 0"}],
   "mark": {"type": "line", "interpolate": "step-after", "strokeWidth": 2.5, "clip": true},
   "encoding": {
    "x": {"field": "x", "type": "quantitative", "scale": {"domain": [0.085, 1.005], "nice": false, "zero": false}, "axis": {"values": [0.2, 0.4, 0.6, 0.8, 1.0], "labelExpr": "datum.value > 0.99 ? '1.' : format(datum.value, '.1f')", "title": "cloud system emissivity", "titleX": 23, "titlePadding": 16}},
    "y": {"field": "y", "type": "quantitative", "scale": {"domain": [0, 8.66], "nice": false}, "axis": {"title": null, "values": [0, 2, 4, 6, 8]}},
    "color": {"field": "r", "type": "nominal", "scale": {"domain": ["data","CNTRL","scaled","fallice","epmax","rqh"], "range": ["#000000","#bfbf00","#ff0000","#bf00bf","#0000ff","#00bfbf"]},
      "legend": {"orient": "none", "legendX": 22, "legendY": 286, "direction": "horizontal", "columns": 6, "title": null, "symbolSize": 0, "symbolStrokeWidth": 0, "symbolOpacity": 0, "symbolOffset": -20, "labelOffset": 0, "columnPadding": -7, "labelFont": "Liberation Serif", "labelFontSize": 20.5, "labelFontWeight": "bold", "labelLimit": 0,
       "labelExpr": "datum.value == 'data' ? 'data,' : datum.value == 'CNTRL' ? 'CNTRL,' : datum.value == 'scaled' ? 'scaled PSDM vₘ,' : datum.value == 'fallice' ? 'FALLICE+,' : datum.value == 'epmax' ? 'EPMAX+,' : 'RQH-'",
       "encode": {"labels": {"update": {"fill": {"signal": "datum.value == 'CNTRL' ? '#c8c800' : datum.value == 'scaled' ? '#ff0000' : datum.value == 'fallice' ? '#9922cc' : datum.value == 'epmax' ? '#0000c0' : datum.value == 'rqh' ? '#3399ff' : '#000000'"}}}}}}
   }}
 ], "spacing": 4}
],
"spacing": 19,
"resolve": {"scale": {"color": "independent"}, "legend": {"color": "independent"}}
}
